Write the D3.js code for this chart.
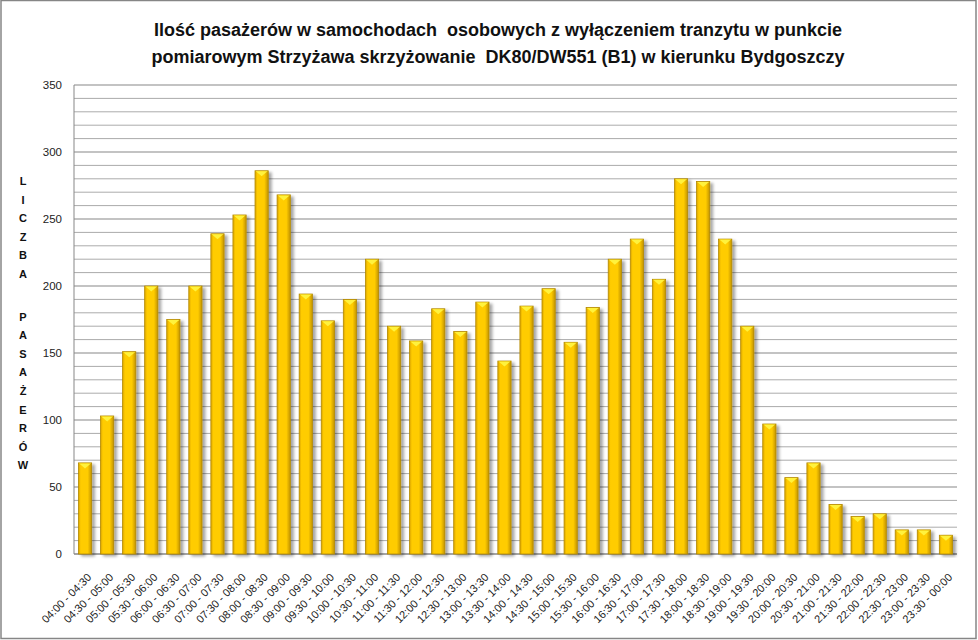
<!DOCTYPE html>
<html><head><meta charset="utf-8">
<script src="https://cdn.jsdelivr.net/npm/d3@7"></script>
<style>body{margin:0;background:#fff;} svg{display:block;}</style>
</head><body>
<svg id="c" width="978" height="640"></svg>
<script>
const titleLines = ["Ilość pasażerów w samochodach  osobowych z wyłączeniem tranzytu w punkcie",
                    "pomiarowym Strzyżawa skrzyżowanie  DK80/DW551 (B1) w kierunku Bydgoszczy"];
const yAxisLabel = "LICZBA PASAŻERÓW";
const categories = ["04:00 - 04:30","04:30 - 05:00","05:00 - 05:30","05:30 - 06:00","06:00 - 06:30","06:30 - 07:00",
  "07:00 - 07:30","07:30 - 08:00","08:00 - 08:30","08:30 - 09:00","09:00 - 09:30","09:30 - 10:00","10:00 - 10:30",
  "10:30 - 11:00","11:00 - 11:30","11:30 - 12:00","12:00 - 12:30","12:30 - 13:00","13:00 - 13:30","13:30 - 14:00",
  "14:00 - 14:30","14:30 - 15:00","15:00 - 15:30","15:30 - 16:00","16:00 - 16:30","16:30 - 17:00","17:00 - 17:30",
  "17:30 - 18:00","18:00 - 18:30","18:30 - 19:00","19:00 - 19:30","19:30 - 20:00","20:00 - 20:30","20:30 - 21:00",
  "21:00 - 21:30","21:30 - 22:00","22:00 - 22:30","22:30 - 23:00","23:00 - 23:30","23:30 - 00:00"];
const values = [68,103,151,200,175,200,239,253,286,268,194,174,190,220,170,159,183,166,188,144,
  185,198,158,184,220,235,205,280,278,235,170,97,57,68,37,28,30,18,18,14];
const yMajorTicks = [0,50,100,150,200,250,300,350];
const yMinorStep = 10;

const svg = d3.select("#c");
const W = 978, H = 640;
const L = 74, R = 957, T = 85, B = 554;

// outer border
svg.append("rect").attr("x",1).attr("y",0.5).attr("width",W-3).attr("height",H-2)
  .attr("fill","#fff").attr("stroke","#868686").attr("stroke-width",1.5);

const defs = svg.append("defs");
const g1 = defs.append("linearGradient").attr("id","barGrad").attr("x1","0").attr("x2","1").attr("y1","0").attr("y2","0");
[[0,"#D9A300"],[0.18,"#FFCC00"],[0.7,"#FFCC00"],[1,"#C29300"]].forEach(s=>g1.append("stop").attr("offset",s[0]).attr("stop-color",s[1]));
const f = defs.append("filter").attr("id","shadow").attr("x","-30%").attr("y","-10%").attr("width","180%").attr("height","130%");
f.append("feGaussianBlur").attr("in","SourceAlpha").attr("stdDeviation",1.6).attr("result","b");
f.append("feOffset").attr("in","b").attr("dx",2.5).attr("dy",1.5).attr("result","o");
f.append("feComponentTransfer").attr("in","o").attr("result","o2").append("feFuncA").attr("type","linear").attr("slope",0.35);
const fm = f.append("feMerge"); fm.append("feMergeNode").attr("in","o2"); fm.append("feMergeNode").attr("in","SourceGraphic");

const x = d3.scaleBand().domain(categories).range([L,R]).paddingInner(0.4).paddingOuter(0.2);
const y = d3.scaleLinear().domain([0,350]).range([B,T]);

// gridlines
const minor = d3.range(0,351,yMinorStep).filter(v=>v%50!==0);
svg.append("g").selectAll("line").data(minor).join("line")
  .attr("x1",L).attr("x2",R).attr("y1",d=>y(d)).attr("y2",d=>y(d))
  .attr("stroke","#ABABAB").attr("stroke-width",1);
svg.append("g").selectAll("line").data(yMajorTicks).join("line")
  .attr("x1",L).attr("x2",R).attr("y1",d=>y(d)).attr("y2",d=>y(d))
  .attr("stroke","#878787").attr("stroke-width",1);

// axis lines
svg.append("line").attr("x1",L).attr("x2",L).attr("y1",T).attr("y2",B).attr("stroke","#878787");
svg.append("line").attr("x1",L).attr("x2",R).attr("y1",B).attr("y2",B).attr("stroke","#878787");

// y axis ticks via d3 axis
const yAxis = d3.axisLeft(y).tickValues(yMajorTicks).tickSize(0).tickPadding(12);
const ya = svg.append("g").attr("transform",`translate(${L},0)`).call(yAxis);
ya.select(".domain").remove();
ya.selectAll(".tick line").remove();
ya.selectAll("text").attr("font-family","Liberation Sans, Arial, sans-serif").attr("font-size",11.5).attr("fill","#222");

// bars
const bars = svg.append("g").selectAll("g").data(values).join("g").attr("filter","url(#shadow)");
bars.append("rect")
  .attr("x",(d,i)=>x(categories[i])).attr("y",d=>y(d))
  .attr("width",x.bandwidth()).attr("height",d=>B-y(d))
  .attr("fill","url(#barGrad)").attr("stroke","#B38A00").attr("stroke-width",0.8);
bars.append("path")
  .attr("d",(d,i)=>{const x0=x(categories[i]), w=x.bandwidth(), y0=y(d);
    return `M${x0+0.5},${y0+0.5} L${x0+w-0.5},${y0+0.5} L${x0+w-2},${y0+1.5} L${x0+w/2},${y0+5.5} L${x0+2},${y0+1.5} Z`;})
  .attr("fill","#FFF23C");

// x axis labels
const xa = svg.append("g");
xa.selectAll("text").data(categories).join("text")
  .attr("transform",d=>`translate(${x(d)+x.bandwidth()/2+7},${B+24}) rotate(-45)`)
  .attr("text-anchor","end")
  .attr("font-family","Liberation Sans, Arial, sans-serif").attr("font-size",11).attr("fill","#222")
  .text(d=>d);

// y-axis label (stacked letters)
const yl = svg.append("text").attr("font-family","Liberation Sans, Arial, sans-serif")
  .attr("font-size",11).attr("font-weight","bold").attr("fill","#111").attr("text-anchor","middle");
let yy = 185;
yAxisLabel.split("").forEach(ch=>{
  if(ch===" "){ yy += 24; return; }
  yl.append("tspan").attr("x",23).attr("y",yy).text(ch);
  yy += 18.6;
});

// title
svg.append("g").selectAll("text").data(titleLines).join("text")
  .attr("x",498).attr("y",(d,i)=>36+i*26.5)
  .attr("text-anchor","middle").style("white-space","pre")
  .attr("font-family","Liberation Sans, Arial, sans-serif").attr("font-weight","bold").attr("font-size",18).attr("fill","#111")
  .text(d=>d);
</script>
</body></html>
